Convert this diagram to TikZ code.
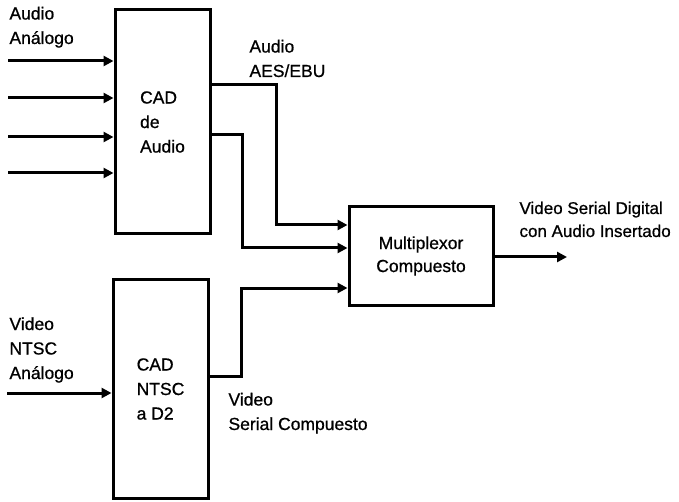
\documentclass[tikz,border=0pt]{standalone}
\usepackage{fontspec}
\setmainfont{Liberation Sans}[FakeBold=0.8]
\usetikzlibrary{arrows.meta}
\begin{document}
\begin{tikzpicture}[x=1pt,y=-1pt,
  font=\fontsize{17.5}{24.5}\selectfont,
  line width=3pt,
  box/.style={draw, rectangle, inner sep=0pt, align=left},
  arr/.style={-{Triangle[length=10pt,width=10pt]}},
  lbl/.style={anchor=base west, inner sep=0pt, align=left}]
\useasboundingbox (0,0) rectangle (679,502);
% boxes
\node[box, minimum width=95pt, minimum height=224pt] (A) at (162.5,122) {CAD\\de\\Audio};
\node[box, minimum width=95pt, minimum height=218pt] (N) at (160.5,389) {CAD\\NTSC\\a D2};
\node[box, align=center, minimum width=144pt, minimum height=98pt,
      font=\fontsize{17.5}{23}\selectfont] (M) at (421,256) {Multiplexor\\Compuesto};
% labels
\node[lbl] (t1) at (8,44) {Audio\\Análogo};
\node[lbl] (t2) at (248,77) {Audio\\AES/EBU};
\node[lbl] (t3) at (8,379) {Video\\NTSC\\Análogo};
\node[lbl] (t4) at (227,430) {Video\\Serial Compuesto};
\node[lbl, font=\fontsize{17}{23}\selectfont] (t5) at (518,237) {Video Serial Digital\\con Audio Insertado};
% inputs to A
\coordinate (i1) at (8,61);
\coordinate (i2) at (8,98);
\coordinate (i3) at (8,137);
\coordinate (i4) at (8,173);
\foreach \c in {i1,i2,i3,i4} \draw[arr] (\c) -- (\c -| A.west);
% input to N
\coordinate (i5) at (7,393);
\draw[arr] (i5) -- (i5 -| N.west);
% A to M
\coordinate (b1) at (276,85);
\coordinate (m1) at (0,225);
\draw[arr] (b1 -| A.east) -- (b1) |- (m1 -| M.west);
\coordinate (b2) at (242,135);
\coordinate (m2) at (0,248);
\draw[arr] (b2 -| A.east) -- (b2) |- (m2 -| M.west);
% N to M
\coordinate (b3) at (241,376);
\coordinate (m3) at (0,288);
\draw[arr] (b3 -| N.east) -- (b3) |- (m3 -| M.west);
% M output
\coordinate (o) at (567,257);
\draw[arr] (o -| M.east) -- (o);
\end{tikzpicture}
\end{document}
